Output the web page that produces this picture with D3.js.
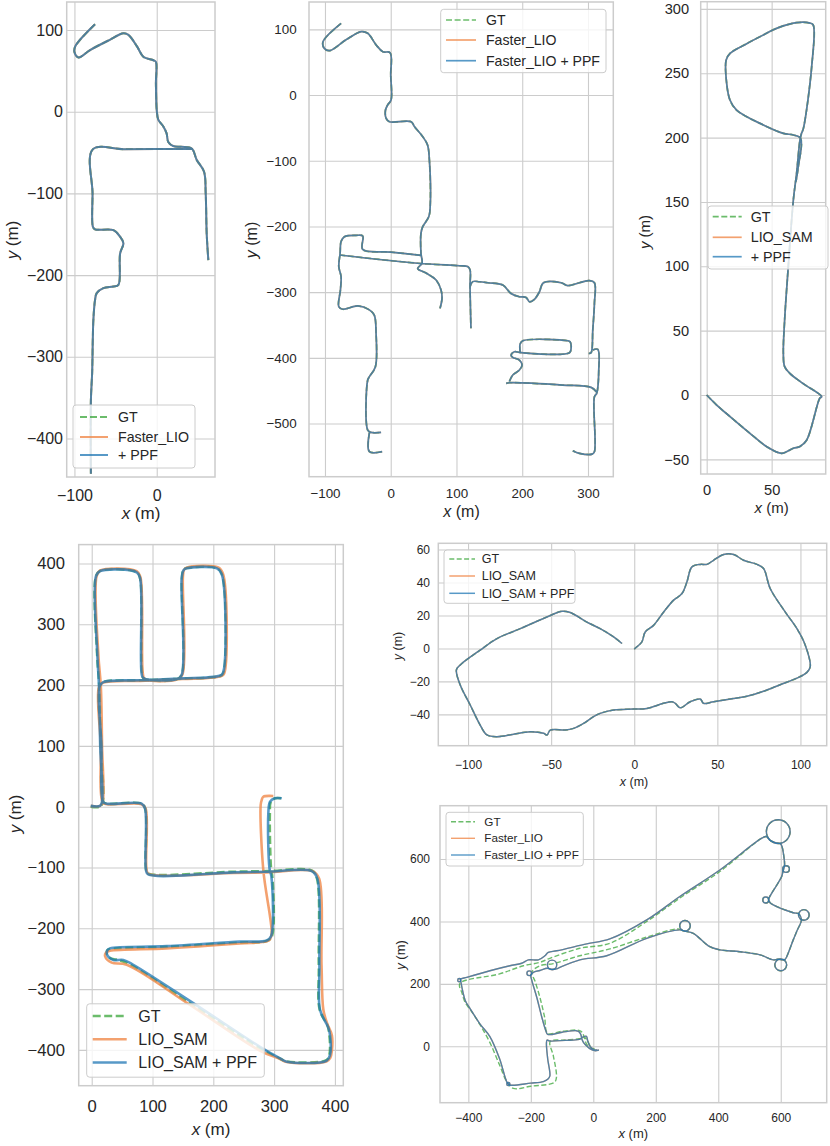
<!DOCTYPE html>
<html>
<head>
<meta charset="utf-8">
<script src="https://cdn.jsdelivr.net/npm/d3@7"></script>
<style>
  body { margin: 0; background: #fff; }
  svg { display: block; }
</style>
</head>
<body>
<svg id="fig" width="830" height="1146"></svg>
<script>
// ---- trajectories, [x, y] in metres, null = break ----

// panel 1: Faster_LIO, GT and +PPF overlap almost completely
let p1_path = [[-75,107],[-99,80],[-100,73],[-95,66.5],[-81,75.5],[-57,88],[-40.5,96],[-34.4,94],[-24,80],[-16,67],[-4,63],[-1,61],[-1,35],[0,2],[2,-10],[8,-18],[12,-26.5],[14,-37],[20,-42],[30,-43],[42.5,-45],[48.6,-59],[57.5,-73.5],[59.5,-100],[60.7,-149],[62.7,-181.6], null,
  [44,-45.5],[0,-45.5],[-40,-45.8],[-77.7,-46.1],[-78,-100],[-77.5,-141],[-75,-144],[-52.6,-145],[-44.5,-153],[-40.5,-161],[-44.5,-173.5],[-46.6,-212],[-52.6,-214],[-64.8,-216],[-72.9,-222],[-75,-230.6],[-77,-255],[-77.7,-279.6],[-78.5,-320],[-80,-353],[-80,-443]];

// panel 2
let p2_path = [[-75.5,109],[-103,81],[-101,71],[-93,67.5],[-68,84],[-45,96.4],[-35,94],[-22,76],[-12,66],[-1,64.4],[0,30],[0.5,-7.6],[-4.6,-15],[-8,-23],[-7,-35.5],[-2,-40.6],[31,-40.6],[36,-48],[48.7,-63.4],[56,-76],[58.8,-99],[60,-170],[58,-185],[48.7,-200.4],[46,-210.5],[46,-241],[47.6,-256],[41,-264],[53.7,-271],[69,-281.6],[76.5,-296.8],[78,-309.5],[75,-324.7], null,
  [46,-244],[0,-239],[-42.6,-235],[-42.6,-214.6],[-52.7,-213.6],[-70.5,-215.6],[-75.5,-223],[-77,-241],[-79,-261],[-75.5,-276.5],[-76.5,-296.8],[-79,-322],[-73,-326],[-50,-321],[-32.5,-327],[-25,-335],[-22.3,-362.7],[-23.3,-413.5],[-32.4,-428.7],[-35,-433.8],[-35,-510],[-30,-513.5],[-14.7,-513.5], null,
  [-32.4,-514],[-32.4,-542.8],[-13,-542.8], null,
  [-78,-243.5],[41,-256],[104.4,-259.8],[117,-261],[120.6,-266],[120.6,-291.7],[122,-355], null,
  [120.6,-291.7],[124.7,-284],[134.9,-284.2],[147.6,-285.7],[170.4,-289.2],[183,-302],[195.7,-307],[205.9,-308],[211,-314.6],[218.5,-311],[226.2,-299.4],[232.2,-285.7],[259.1,-285.7],[269.2,-290.2],[287,-285.7],[302.2,-282.6],[309.8,-285.7],[309.8,-317],[307.3,-357.7],[304.7,-392.2],[301.2,-393.2], null,
  [307.3,-388],[314.9,-387.2],[316.4,-418.6],[313.3,-454.1],[309.8,-459.2],[309.8,-542.9],[306.3,-546.5],[287,-545.4],[276.9,-541.4], null,
  [313,-452],[304.7,-445],[261.6,-441.4],[180.5,-437.9],[175.5,-438.9], null,
  [180.5,-436],[185.6,-426.2],[195.7,-418.6],[199.8,-411],[195.7,-403.4],[185.6,-399.3],[183.1,-395.8],[188.1,-390.7],[198.3,-392.2],[271.8,-392.2],[274.3,-385.6],[272.8,-375.5],[269.3,-374],[200.8,-374],[196.8,-379],[196.8,-390.7]];

// panel 3
let p3_path = [[0,0],[7.7,-7.8],[18,-16.8],[33.3,-29.8],[46,-40],[57.7,-45.3],[66.7,-41.4],[71.8,-40],[77,-35],[87,-2.6],[88.5,-1.3],[74,9],[64,16.8],[60,22],[59,32.4],[60,58.3],[62.8,99.7],[66.7,151.5],[69.2,172.2],[71.8,198],[73,203.3],[74.4,207],[80.8,255],[82,287.5],[79.5,289],[69,289.3],[53.8,284.9],[46,281],[30.8,273],[18,265.5],[15,260.3],[15.4,242],[18,229],[23,221.4],[43.6,209.8],[59,203.3],[66.7,202],[72.3,199.4],[70.5,177.4],[68.7,165.8]];

// panel 4: the three runs differ visibly
let p4_gt = [[-1.6,0],[13.7,0],[18,7],[15,100],[12.5,198],[9,249],[7,379],[13.7,388],[74,386],[79.5,376],[83,220],[85.5,211],[140,209.5],[148,216.5],[148.5,376],[151,389.5],[156,392.5],[206,392.5],[214.5,382],[218.5,229],[214.5,216.5],[200,213],[150,210.5],[80,207.5],[19,205],[13,198],[16,100],[19,8],[25,5],[82,5],[88,-3],[89.8,-105],[93,-110],[233,-107],[288,-106],[361.8,-105],[370,-116],[373.5,-261],[375,-334],[388,-360],[391,-376],[391,-408],[386,-417],[320.7,-419],[309.8,-414.5],[276.8,-397],[164,-325],[62,-259],[44,-252],[32,-250],[25,-243],[25.8,-236],[30.1,-234],[123.4,-230.5],[244,-223.5],[287.8,-221],[296,-214],[297,-114.7],[295,-102],[293,-11],[294.5,8],[301.5,13.8],[312.5,13.8]];
let p4_lio = [[-1.6,1.3],[13.7,1.3],[18,8],[17,100],[15,198],[11,249],[8,379],[14,388.5],[74,387.5],[80,378],[84,220],[87,210.5],[140,209],[149,217],[150,378],[152,390],[157,393.5],[208,393.5],[216,383],[220,229],[216,216.5],[200,212.5],[150,210],[80,207],[19,204],[12,197],[15,100],[18,7],[25,4],[82,4],[88.7,-3],[90.4,-105],[94,-111],[233,-109],[288,-108],[363,-106],[374,-118],[378,-261],[381,-334],[387,-356],[395,-376],[395,-401.5],[392.4,-413],[386,-419],[320.7,-420],[310,-415],[277,-401.5],[161.7,-326],[57.6,-260],[32.9,-256.6],[22,-246],[23.6,-240],[30,-237],[123,-233],[244,-225],[288,-221.5],[293.4,-218],[296,-208],[282.2,-104],[277.9,2.8],[279.6,11],[282.2,16.4],[298.7,17.6]];
let p4_ppf = [[-1.6,1.3],[13.7,1.3],[17,8],[14,100],[12,198],[9.3,249],[7,379],[13.7,387.5],[74,385.6],[79.5,376],[82,220],[85,211.6],[140,210],[148,216.7],[148,376],[151,389],[156,392],[206,392],[214,382],[218,229],[214,217],[200,213.5],[150,211],[80,208],[19,205],[13,198],[16,100],[19,8],[25,5],[82,5],[87.7,-3],[89.4,-105],[93,-111.5],[233,-108],[288,-107],[361.8,-106],[371,-118],[374.5,-261],[375.5,-334],[389,-363],[392,-376],[392,-408],[386.5,-417.5],[320.7,-419.4],[309.8,-414],[276.8,-395],[167,-323],[68.4,-260],[52,-252],[36,-252],[26,-245],[25.8,-236],[30.1,-233],[123.4,-229.4],[244,-222],[287.8,-220],[295,-213],[295.5,-114.7],[292.5,-102],[290.5,-11],[293.3,8.2],[301.5,13.8],[312.5,13.8]];

// panel 5
let p5_path = [[0,-0.4],[1.6,1],[4.6,4],[6.6,10],[11.6,14],[17.6,22],[23.7,29.3],[28.7,33.3],[31.7,40.4],[34.7,49.5],[39.7,51],[43.7,51],[47.7,53.5],[53.8,57],[59.8,57],[65.8,53.5],[73.8,51],[77.8,48.5],[81.8,36.4],[90.8,22.2],[97.9,12],[102.9,2],[105.9,-11],[103.9,-14.5],[97.9,-18],[87.8,-22],[77.8,-26],[67.8,-29],[59.8,-30.3],[47.7,-32.3],[41.7,-33.3],[39.7,-30.7],[33.7,-32.3],[27.7,-36],[24.7,-33.3],[22.7,-32.3],[17.6,-33.3],[7.6,-36.4],[-0.4,-36.8],[-12.4,-37.4],[-20.5,-39.4],[-24.5,-41.4],[-30.5,-45.5],[-36.5,-48.5],[-41.5,-49.5],[-50.5,-49.5],[-52.5,-52.5],[-54.5,-51.5],[-62.6,-50.5],[-72.6,-52],[-82.6,-53.5],[-88.6,-52.5],[-92.7,-46.5],[-98.7,-34.3],[-104.7,-22.2],[-107,-13],[-104.7,-10],[-92.7,-1],[-82.6,6],[-68.6,12],[-50.5,20],[-43.5,22.6],[-38.5,21.8],[-28.5,16],[-20.5,12],[-12.4,7],[-7.4,3]];

// panel 6: GT drifts apart from the estimates on the left half
let p6_ppf = [[18,-12],[4,-14],[-10,-8],[-22,2],[-30,10],[-36,22],[-40,38],[-46,47],[-55,50],[-100,45],[-146,38],[-152,50],[-165,94],[-181,157],[-197,212],[-200,228],[-192,237],[-171,243],[-147,250],[-132,246],[-115,249],[-107,253],[-43,277],[43,290],[171,346],[277,373],[293,369],[320,362],[373,319],[405,309],[470,303],[534,293],[576,277],[590,279],[613,278],[619,287],[640,341],[652,370],[666,405],[658,424],[640,428],[576,453],[566,460],[561,470],[566,482],[603,544],[607,561],[612,578],[610,608],[600,648],[585,652],[566,660],[554,672],[538,666],[405,565],[277,480],[171,405],[53,344],[-21,328],[-117,306],[-144,301],[-155,290],[-176,277],[-208,277],[-229,266],[-267,258],[-331,242],[-405,221],[-425,215],[-424,207],[-410,147],[-394,120],[-363,72],[-331,31],[-300,-40],[-276,-116],[-268,-124],[-200,-118],[-160,-113],[-145,-105],[-139,-95],[-146,-40],[-150,10],[-148,20],[-140,17],[-90,19],[-45,22],[-32,30],[-22,32],[-18,18],[-12,2],[0,-10],[12,-12]];
let p6_gt = [[4,-8],[-10,-4],[-22,8],[-29,28],[-35,44],[-46,51],[-100,48],[-146,42],[-156,94],[-171,157],[-187,210],[-197,237],[-171,258],[-128,265],[-43,290],[53,312],[171,350],[270,376],[293,369],[320,362],[373,319],[405,309],[470,303],[534,293],[576,277],[590,279],[613,278],[619,287],[640,341],[652,370],[666,405],[658,424],[640,428],[576,453],[566,460],[561,470],[566,482],[603,544],[607,561],[612,578],[610,608],[600,648],[585,652],[566,660],[554,672],[538,666],[405,560],[277,475],[171,400],[53,330],[-43,314],[-139,282],[-171,269],[-224,258],[-300,232],[-427,201],[-420,170],[-410,140],[-390,112],[-360,65],[-330,10],[-300,-60],[-277,-113],[-256,-135],[-200,-128],[-125,-116],[-118,-100],[-128,-30],[-138,15],[-90,20],[-45,24],[-30,30],[-20,20],[-10,0]];
// loops driven on the spot: [cx, cy, r] in metres
let p6_loops_ppf = [[592,688,38],[617,568,10.7],[552,469,9.6],[674,421,17],[600,261,19],[293.5,386,17],[-132,261,15],[-205,234,7.5],[-429,212,5],[-272,-121,5]];
let p6_loops_gt = [[592,688,38],[617,568,10.7],[552,469,9.6],[674,421,17],[600,261,19],[293.5,386,17]];

// tick values
let ticks1_x = [-100, 0], ticks1_y = [-400, -300, -200, -100, 0, 100];
let ticks2_x = [-100, 0, 100, 200, 300], ticks2_y = [-500, -400, -300, -200, -100, 0, 100];
let ticks3_x = [0, 50], ticks3_y = [-50, 0, 50, 100, 150, 200, 250, 300];
let ticks4_x = [0, 100, 200, 300, 400], ticks4_y = [-400, -300, -200, -100, 0, 100, 200, 300, 400];
let ticks5_x = [-100, -50, 0, 50, 100], ticks5_y = [-40, -20, 0, 20, 40, 60];
let ticks6_x = [-400, -200, 0, 200, 400, 600], ticks6_y = [0, 200, 400, 600];

// legend labels
let names1 = ["GT", "Faster_LIO", "+ PPF"];
let names2 = ["GT", "Faster_LIO", "Faster_LIO + PPF"];
let names3 = ["GT", "LIO_SAM", "+ PPF"];
let names4 = ["GT", "LIO_SAM", "LIO_SAM + PPF"];
let names5 = ["GT", "LIO_SAM", "LIO_SAM + PPF"];
let names6 = ["GT", "Faster_LIO", "Faster_LIO + PPF"];

const FONT = "'Liberation Sans', Arial, sans-serif";
const TXT = "#262626";
const GRID = "#cccccc";
const colGT = "#2ca02c", colLIO = "#f08a4b", colPPF = "#1f77b4";
const opGT = 0.7, opLIO = 0.8, opPPF = 0.75;

let svg = d3.select("#fig");

const panels = [
  {left: 66.7, right: 215, top: 2, bottom: 477, xd: [-109.4, 70.8], yd: [-447.1, 134.3],
   xt: ticks1_x, yt: ticks1_y, fs: 16, lfs: 14.2, afs: 17, xTickY: 495, yTickX: 63,
   xLab: [141, 513], yLab: [11.7, 240], lw: 2, dash: "7,3",
   leg: {x: 73, y: 405, w: 122, h: 63, rows: [417, 437, 455], l0: 80, l1: 108, tx: 118},
   names: names1, gt: p1_path, lio: p1_path, ppf: p1_path},
  {left: 309, right: 613.3, top: 2, bottom: 476.7, xd: [-124.3, 338.5], yd: [-580.9, 141.6],
   xt: ticks2_x, yt: ticks2_y, fs: 13.4, lfs: 14.1, afs: 16, xTickY: 493, yTickX: 296.7,
   xLab: [461.5, 511.7], yLab: [251.7, 240], lw: 1.7, dash: "6,2.6",
   leg: {x: 440.7, y: 9.3, w: 165.3, h: 63.4, rows: [20, 40, 60.7], l0: 446, l1: 476, tx: 486},
   names: names2, gt: p2_path, lio: p2_path, ppf: p2_path},
  {left: 700.7, right: 825.7, top: 1.7, bottom: 474, xd: [-4.6, 91.6], yd: [-61.4, 305.6],
   xt: ticks3_x, yt: ticks3_y, fs: 14.6, lfs: 14.3, afs: 15, xTickY: 490, yTickX: 689,
   xLab: [771.7, 508], yLab: [645, 232], lw: 1.7, dash: "6,2.6",
   leg: {x: 708, y: 206, w: 120, h: 63, rows: [216.7, 237.3, 256.7], l0: 712.7, l1: 741.7, tx: 750.7},
   names: names3, gt: p3_path, lio: p3_path, ppf: p3_path},
  {left: 78.7, right: 343.3, top: 544.6, bottom: 1085.7, xd: [-21.4, 413.8], yd: [-458.9, 431.1],
   xt: ticks4_x, yt: ticks4_y, fs: 16.6, lfs: 16, afs: 17, xTickY: 1106, yTickX: 65,
   xLab: [211, 1129], yLab: [15, 814], lw: 2.6, dash: "8,3.5",
   leg: {x: 86.7, y: 1003.8, w: 177.6, h: 73.4, rows: [1016, 1039.3, 1062.5], l0: 92.7, l1: 126.7, tx: 138.3},
   names: names4, gt: p4_gt, lio: p4_lio, ppf: p4_ppf},
  {left: 438.3, right: 826.7, top: 543.3, bottom: 745.7, xd: [-117.9, 115.8], yd: [-59, 63.8],
   xt: ticks5_x, yt: ticks5_y, fs: 12, lfs: 12.5, afs: 12.5, xTickY: 765, yTickX: 430,
   xLab: [634, 782], yLab: [398, 646], lw: 1.5, dash: "5,2.4",
   leg: {x: 444, y: 550, w: 131, h: 53.3, rows: [559, 576, 593.3], l0: 449.3, l1: 475, tx: 481.7},
   names: names5, gt: p5_path, lio: p5_path, ppf: p5_path},
  {left: 440, right: 826.7, top: 805.7, bottom: 1102.7, xd: [-490.7, 747.1], yd: [-180.8, 771],
   xt: ticks6_x, yt: ticks6_y, fs: 12, lfs: 11.7, afs: 13, xTickY: 1118, yTickX: 430,
   xLab: [633.3, 1133.5], yLab: [400, 955], lw: 1.4, dash: "5,2.4",
   leg: {x: 446, y: 812.3, w: 137.3, h: 53.7, rows: [821.7, 838.3, 855], l0: 451, l1: 475, tx: 484.3},
   names: names6, gt: p6_gt, lio: p6_ppf, ppf: p6_ppf,
   loopsGT: p6_loops_gt, loopsLIO: p6_loops_ppf, loopsPPF: p6_loops_ppf}
];

const drawPanel = (p, i) => {
  let x = d3.scaleLinear().domain(p.xd).range([p.left, p.right]);
  let y = d3.scaleLinear().domain(p.yd).range([p.bottom, p.top]);
  let g = svg.append("g").attr("class", "panel" + (i + 1));

  // grid + tick labels through d3 axes
  let gx = g.append("g")
    .attr("transform", "translate(0," + p.bottom + ")")
    .call(d3.axisBottom(x).tickValues(p.xt).tickFormat(d3.format("d"))
      .tickSize(-(p.bottom - p.top)).tickPadding(p.xTickY - p.bottom - 0.35 * p.fs));
  let gy = g.append("g")
    .attr("transform", "translate(" + p.left + ",0)")
    .call(d3.axisLeft(y).tickValues(p.yt).tickFormat(d3.format("d"))
      .tickSize(-(p.right - p.left)).tickPadding(p.left - p.yTickX));
  [gx, gy].forEach(a => {
    a.select(".domain").remove();
    a.selectAll("line").attr("stroke", GRID).attr("stroke-width", 1.1);
    a.selectAll("text").attr("fill", TXT).attr("font-size", p.fs).attr("font-family", FONT);
  });

  // frame
  g.append("rect")
    .attr("x", p.left).attr("y", p.top)
    .attr("width", p.right - p.left).attr("height", p.bottom - p.top)
    .attr("fill", "none").attr("stroke", GRID).attr("stroke-width", 1.5);

  let clipId = "clip" + i;
  g.append("clipPath").attr("id", clipId).append("rect")
    .attr("x", p.left).attr("y", p.top)
    .attr("width", p.right - p.left).attr("height", p.bottom - p.top);

  let line = d3.line()
    .defined(d => d !== null)
    .x(d => x(d[0])).y(d => y(d[1]))
    .curve(d3.curveCatmullRom.alpha(0.5));

  let lines = g.append("g").attr("clip-path", "url(#" + clipId + ")");
  const series = [
    {data: p.gt, loops: p.loopsGT, c: colGT, op: opGT, dash: p.dash},
    {data: p.lio, loops: p.loopsLIO, c: colLIO, op: opLIO, dash: null},
    {data: p.ppf, loops: p.loopsPPF, c: colPPF, op: opPPF, dash: null}
  ];
  series.forEach(s => {
    let sg = lines.append("g").attr("fill", "none").attr("stroke", s.c)
      .attr("stroke-width", p.lw).attr("stroke-opacity", s.op)
      .attr("stroke-dasharray", s.dash).attr("stroke-linejoin", "round");
    sg.append("path").attr("d", line(s.data));
    if (s.loops) {
      sg.selectAll("circle").data(s.loops).enter().append("circle")
        .attr("cx", d => x(d[0])).attr("cy", d => y(d[1]))
        .attr("r", d => x(d[0] + d[2]) - x(d[0]));
    }
  });

  // legend
  let L = p.leg;
  let lg = g.append("g");
  lg.append("rect").attr("x", L.x).attr("y", L.y).attr("width", L.w).attr("height", L.h)
    .attr("rx", 3).attr("fill", "#fff").attr("fill-opacity", 0.8)
    .attr("stroke", "#cccccc").attr("stroke-width", 1);
  L.rows.forEach((ry, k) => {
    lg.append("line").attr("x1", L.l0).attr("x2", L.l1).attr("y1", ry).attr("y2", ry)
      .attr("stroke", series[k].c).attr("stroke-width", p.lw)
      .attr("stroke-opacity", series[k].op)
      .attr("stroke-dasharray", series[k].dash);
    lg.append("text").attr("x", L.tx).attr("y", ry).attr("dy", "0.35em")
      .attr("font-family", FONT).attr("font-size", p.lfs).attr("fill", TXT)
      .text(p.names[k]);
  });

  // axis labels
  let xl = g.append("text").attr("x", p.xLab[0]).attr("y", p.xLab[1]).attr("dy", "0.35em")
    .attr("text-anchor", "middle").attr("font-family", FONT).attr("font-size", p.afs).attr("fill", TXT);
  xl.append("tspan").attr("font-style", "italic").text("x");
  xl.append("tspan").text(" (m)");
  let yl = g.append("text")
    .attr("transform", "translate(" + p.yLab[0] + "," + p.yLab[1] + ") rotate(-90)")
    .attr("dy", "0.35em").attr("text-anchor", "middle")
    .attr("font-family", FONT).attr("font-size", p.afs).attr("fill", TXT);
  yl.append("tspan").attr("font-style", "italic").text("y");
  yl.append("tspan").text(" (m)");
};

panels.forEach(drawPanel);
</script>
</body>
</html>
